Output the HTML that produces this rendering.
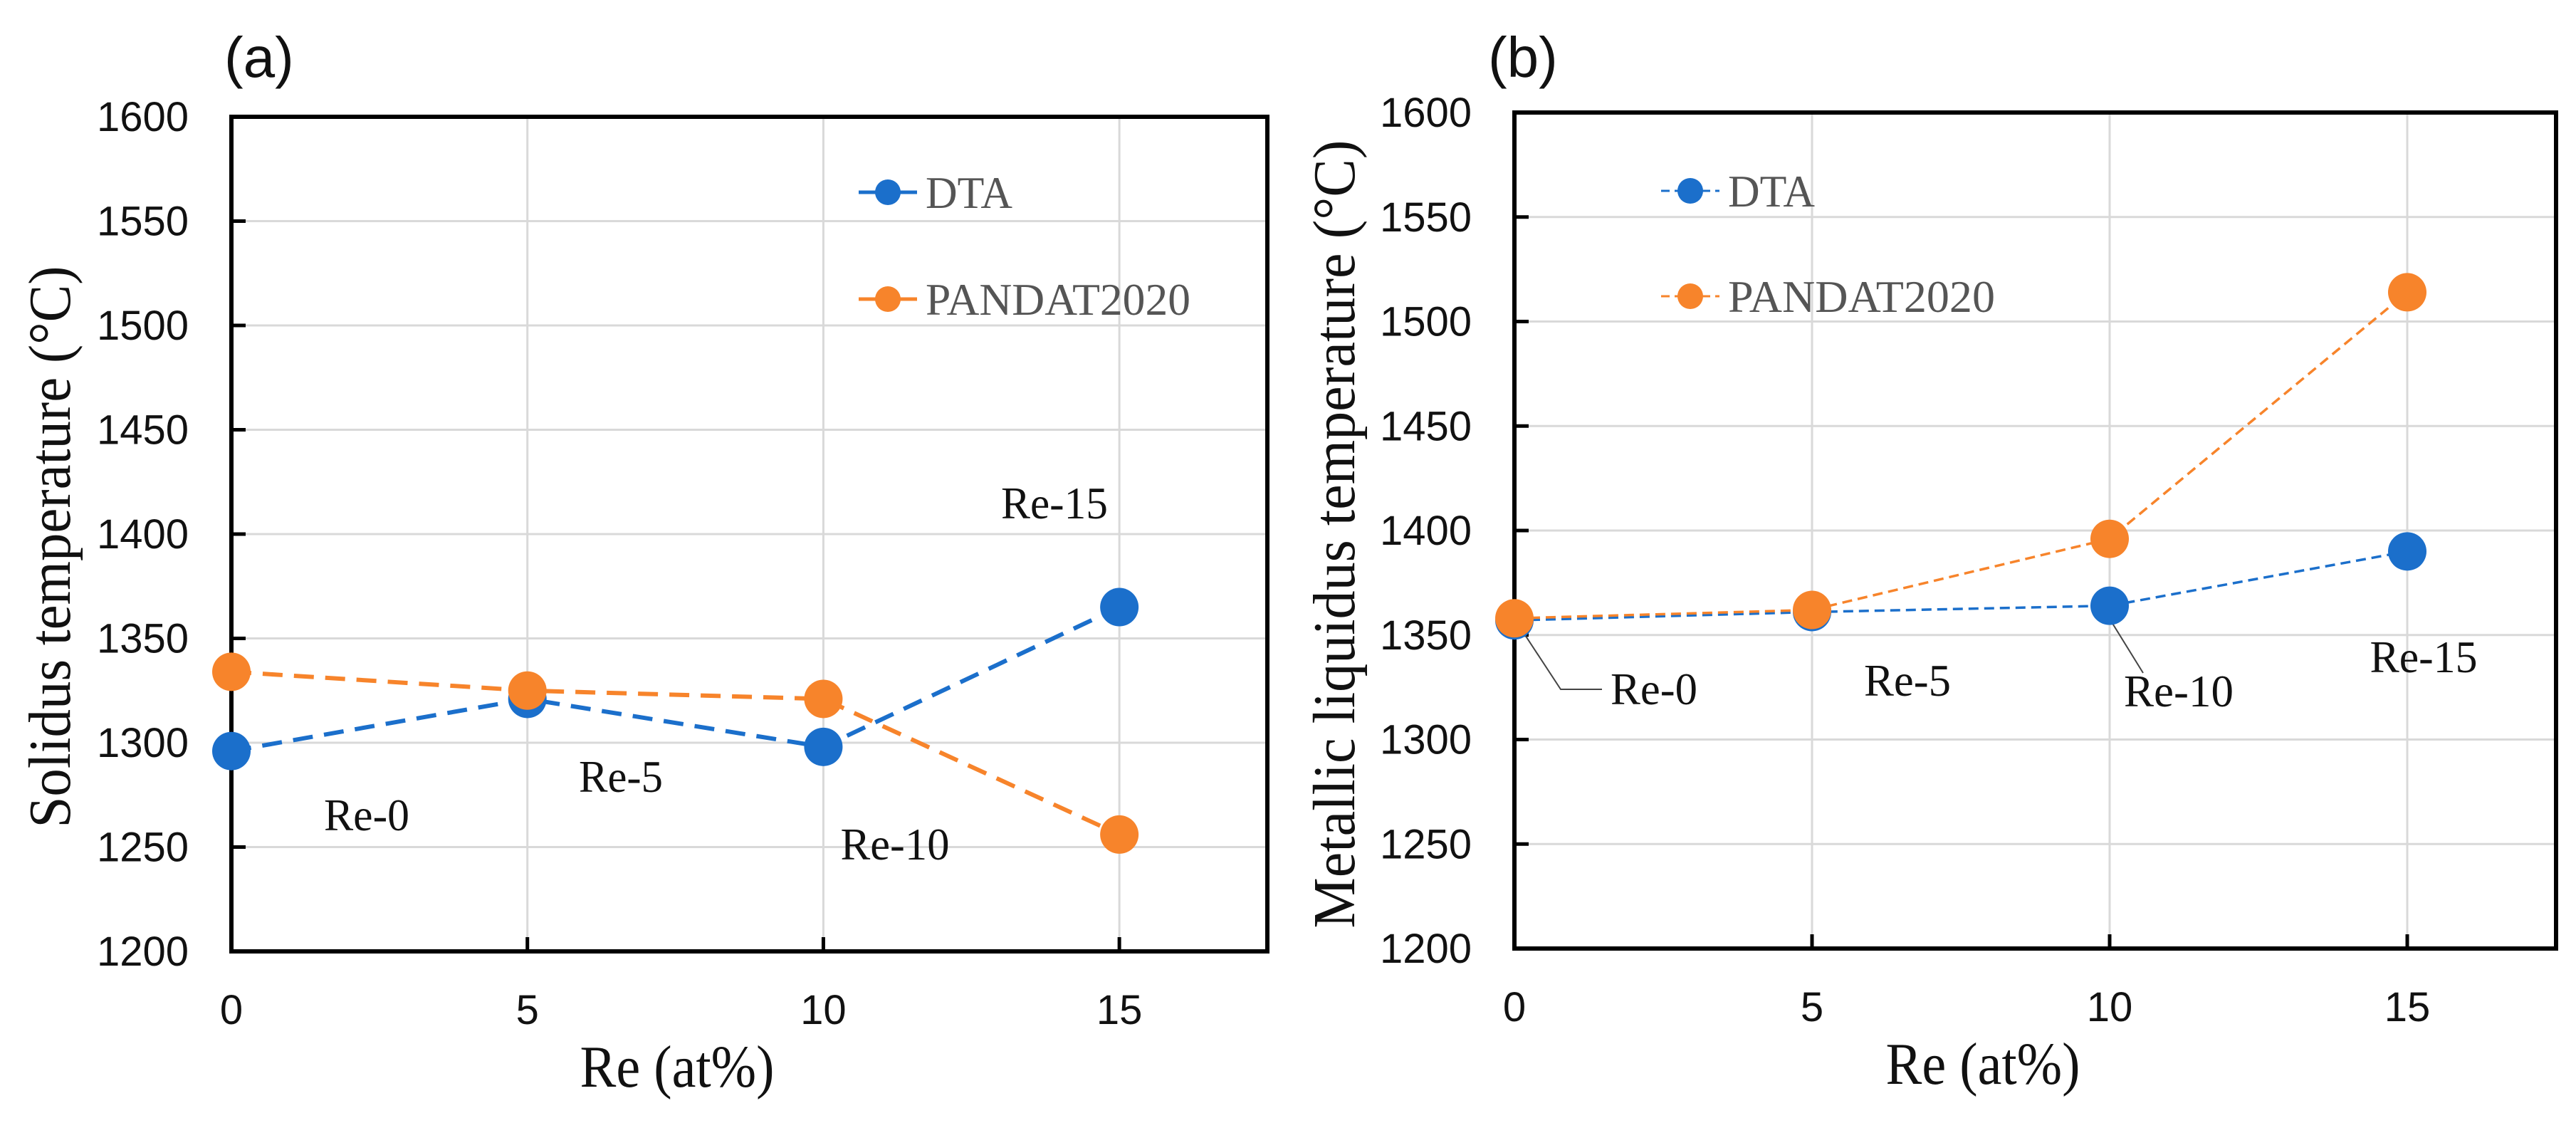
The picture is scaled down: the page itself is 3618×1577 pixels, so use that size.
<!DOCTYPE html>
<html><head><meta charset="utf-8"><style>
html,body{margin:0;padding:0;background:#fff;}
svg{display:block;}
.tick{font-family:"Liberation Sans",sans-serif;font-size:58px;fill:#111;}
.serif{font-family:"Liberation Serif",serif;}
</style></head><body>
<svg id="chart" width="3618" height="1577" viewBox="0 0 3618 1577" xmlns="http://www.w3.org/2000/svg"></svg>
<script>
const categories = [0, 5, 10, 15];
const xTicks = [0, 5, 10, 15];
const yTicks = [1200, 1250, 1300, 1350, 1400, 1450, 1500, 1550, 1600];
const solidusDTA = [1296, 1321, 1298, 1365];
const solidusPANDAT = [1334, 1325, 1321, 1256];
const liquidusDTA = [1357, 1361, 1364, 1390];
const liquidusPANDAT = [1358, 1362, 1396, 1514];
const labelsA = ['Re-0', 'Re-5', 'Re-10', 'Re-15'];
const labelsB = ['Re-0', 'Re-5', 'Re-10', 'Re-15'];

const NS = 'http://www.w3.org/2000/svg';
const svg = document.getElementById('chart');
function mk(tag, attrs, parent, text) {
  const e = document.createElementNS(NS, tag);
  for (const k in attrs) e.setAttribute(k, attrs[k]);
  if (text !== undefined) e.textContent = text;
  (parent || svg).appendChild(e);
  return e;
}
const BLUE = '#1b6fcb', ORANGE = '#f7842b';

function panel(cfg) {
  const g = mk('g', {});
  
  
  const xs = v => cfg.x0 + (v / 17.5) * (cfg.x1 - cfg.x0);
  const ys = v => cfg.y1 - (v - 1200) / 400 * (cfg.y1 - cfg.y0);
  yTicks.forEach(t => {
    if (t === 1200) return;
    const l = mk('line', {x1: cfg.x0, x2: cfg.x1, y1: ys(t), y2: ys(t), stroke: '#d9d9d9', 'stroke-width': 3}, g);
    
    
  });
  xTicks.forEach(t => {
    if (t === 0) return;
    const l = mk('line', {x1: xs(t), x2: xs(t), y1: cfg.y0, y2: cfg.y1, stroke: '#d9d9d9', 'stroke-width': 3}, g);
    
    
    const tk = mk('line', {x1: xs(t), x2: xs(t), y1: cfg.y1 - 20, y2: cfg.y1, stroke: '#000', 'stroke-width': 5}, g);
    
    
  });
  const fr = mk('rect', {x: cfg.x0, y: cfg.y0, width: cfg.x1 - cfg.x0, height: cfg.y1 - cfg.y0, fill: 'none', stroke: '#000', 'stroke-width': 6}, g);
  
  
  yTicks.forEach(t => {
    const tk = mk('line', {x1: cfg.x0, x2: cfg.x0 + 20, y1: ys(t), y2: ys(t), stroke: '#000', 'stroke-width': 5}, g);
    
    
    const tx = mk('text', {x: cfg.x0 - 60, y: ys(t) + 20, 'text-anchor': 'end', class: 'tick'}, g, t);
    
    
  });
  xTicks.forEach(t => {
    const tx = mk('text', {x: xs(t), y: cfg.y1 + 102, 'text-anchor': 'middle', class: 'tick'}, g, t);
    
    
  });
  const xt = mk('text', {x: cfg.xtx, y: cfg.y1 + 190, 'text-anchor': 'middle', class: 'serif', 'font-size': 84, fill: '#111', textLength: 273, lengthAdjust: 'spacingAndGlyphs'}, g, 'Re (at%)');
  
  
  const yt = mk('text', {x: 0, y: 0, transform: 'translate(' + cfg.ytx + ',' + cfg.yty + ') rotate(-90)', 'text-anchor': 'middle', class: 'serif', 'font-size': 84, fill: '#111', textLength: cfg.ytlen, lengthAdjust: 'spacingAndGlyphs'}, g, cfg.ytitle);
  
  
  const pl = mk('text', {x: cfg.plx, y: 108, 'font-family': '"Liberation Sans",sans-serif', 'font-size': 80, fill: '#111'}, g, cfg.label);
  
  
  (cfg.leaders || []).forEach(pts => {
    const p = mk('polyline', {points: pts, fill: 'none', stroke: '#444', 'stroke-width': 2}, g);
    
    
  });
  [[cfg.dta, BLUE, 'dta'], [cfg.pandat, ORANGE, 'pandat']].forEach(([vals, col, nm]) => {
    const pts = categories.map((c, i) => xs(c) + ',' + ys(vals[i])).join(' ');
    const ln = mk('polyline', {points: pts, fill: 'none', stroke: col, 'stroke-width': cfg.sw, 'stroke-dasharray': cfg.dash}, g);
    
    
    categories.forEach((c, i) => {
      const m = mk('circle', {cx: xs(c), cy: ys(vals[i]), r: 27, fill: col}, g);
      
      
    });
  });
  cfg.legend.forEach(([y, col, txt, nm, w]) => {
    const lg = mk('g', {}, g);
    
    
    mk('line', {x1: cfg.lx1, x2: cfg.lx2, y1: y, y2: y, stroke: col, 'stroke-width': cfg.lsw, 'stroke-dasharray': cfg.ldash}, lg);
    mk('circle', {cx: (cfg.lx1 + cfg.lx2) / 2, cy: y, r: 18, fill: col}, lg);
    mk('text', {x: cfg.lx2 + 12, y: y + 22, class: 'serif', 'font-size': 64, fill: '#555', textLength: w, lengthAdjust: 'spacingAndGlyphs'}, lg, txt);
  });
  cfg.ann.forEach((a, i) => {
    const t = mk('text', {x: a[0], y: a[1] + 22, 'text-anchor': 'middle', class: 'serif', 'font-size': 64, fill: '#111', textLength: a[2], lengthAdjust: 'spacingAndGlyphs'}, g, cfg.annLabels[i]);
    
    
  });
}

panel({name: 'panel-a-solidus', label: '(a)', plx: 315, x0: 325, x1: 1780, y0: 164, y1: 1336,
  ytitle: 'Solidus temperature (°C)', ytx: 98, yty: 768, ytlen: 789, xtx: 951,
  dta: solidusDTA, pandat: solidusPANDAT, sw: 6, dash: '28 16',
  lx1: 1206, lx2: 1288, lsw: 5, ldash: 'none',
  legend: [[270, BLUE, 'DTA', 'legend-dta', 122], [420, ORANGE, 'PANDAT2020', 'legend-pandat', 372]],
  ann: [[515, 1144, 120], [872, 1090, 118], [1257, 1185, 153], [1481, 706, 150]], annLabels: labelsA});

panel({name: 'panel-b-liquidus', label: '(b)', plx: 2090, x0: 2127, x1: 3590, y0: 158, y1: 1332,
  ytitle: 'Metallic liquidus temperature (°C)', ytx: 1902, yty: 750, ytlen: 1107, xtx: 2785,
  dta: liquidusDTA, pandat: liquidusPANDAT, sw: 3.5, dash: '14 8',
  lx1: 2333, lx2: 2415, lsw: 3, ldash: '12 7',
  legend: [[268, BLUE, 'DTA', 'legend-dta', 122], [416, ORANGE, 'PANDAT2020', 'legend-pandat', 375]],
  leaders: ['2127,869 2192,968 2250,968', '2963,869 3010,945'],
  ann: [[2323, 967, 122], [2679, 955, 122], [3060, 970, 154], [3404, 922, 151]], annLabels: labelsB});
</script>
</body></html>
